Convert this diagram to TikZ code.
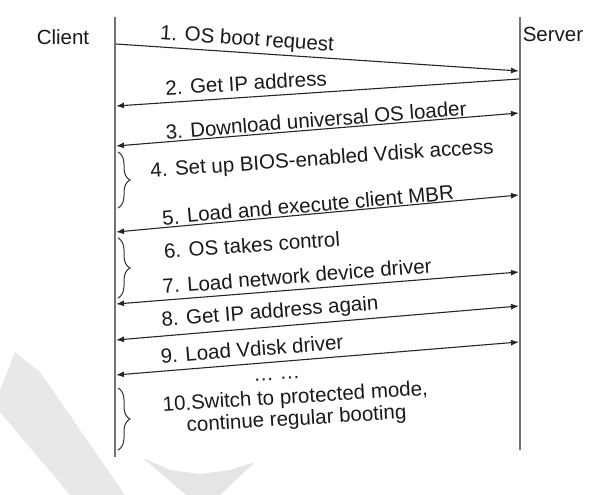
\documentclass[tikz,border=0pt]{standalone}
\usepackage{fontspec}
\setmainfont{Liberation Sans}
\usetikzlibrary{arrows.meta,decorations.pathreplacing}
\begin{document}
\begin{tikzpicture}[x=1pt,y=-1pt,
  lifeline/.style={draw=black!55, line width=1.4pt},
  msg/.style={draw=black!85, line width=1.1pt},
  head/.tip={Latex[length=8pt,width=6pt]},
  lbl/.style={font=\fontsize{20.5}{22}\selectfont, text=black!90, inner sep=0pt},
  brc/.style={draw=black!80, line width=1pt, decorate, decoration={brace, amplitude=12pt}},
  wmark/.style={fill=black!9, draw=none}]
\useasboundingbox (0,0) rectangle (590,495);
% faint watermark
\fill[wmark] (0,390) -- (15,352) -- (40,372) -- (125,495) -- (70,495) -- (0,412) -- cycle;
\path[fill=black!10] (143,458) -- (170,470) -- (200,474) -- (230,470) -- (255,462) -- (220,495) -- (186,495) -- cycle;
% lifelines
\coordinate (ct) at (115,17); \coordinate (cb) at (115,457);
\coordinate (st) at (520,17); \coordinate (sb) at (520,450);
\draw[lifeline] (ct) -- (cb);
\draw[lifeline] (st) -- (sb);
\node[lbl] (client) at (63,37) {Client};
\node[lbl] (server) at (553,34) {Server};
% message end points
\coordinate (c1) at (116,44);  \coordinate (s1) at (519,71);
\coordinate (s2) at (519,79);  \coordinate (c2) at (116,106);
\coordinate (c3) at (116,146); \coordinate (s3) at (519,113);
\coordinate (c5) at (116,232); \coordinate (s5) at (519,195);
\coordinate (c7) at (116,304); \coordinate (s7) at (519,272);
\coordinate (c8) at (116,340); \coordinate (s8) at (519,306);
\coordinate (c9) at (116,375); \coordinate (s9) at (519,342);
\draw[msg,-head] (c1) -- (s1);
\draw[msg,-head] (s2) -- (c2);
\draw[msg,head-head] (c3) -- (s3);
\draw[msg,head-head] (c5) -- (s5);
\draw[msg,head-head] (c7) -- (s7);
\draw[msg,head-head] (c8) -- (s8);
\draw[msg,head-head] (c9) -- (s9);
% braces
\coordinate (b1t) at (118,152); \coordinate (b1b) at (118,208);
\coordinate (b2t) at (118,238); \coordinate (b2b) at (118,298);
\coordinate (b3t) at (118,388); \coordinate (b3b) at (118,450);
\draw[brc] (b1t) -- (b1b);
\draw[brc] (b2t) -- (b2b);
\draw[brc] (b3t) -- (b3b);
% labels
\node[lbl,rotate=-4]  (l1) at (247,40)  {1. OS boot request};
\node[lbl,rotate=3.5] (l2) at (246,83)  {2. Get IP address};
\node[lbl,rotate=4.5] (l3) at (316,120) {3. Download universal OS loader};
\node[lbl,rotate=4]   (l4) at (322,160) {4. Set up BIOS-enabled Vdisk access};
\node[lbl,rotate=5]   (l5) at (308,205) {5. Load and execute client MBR};
\node[lbl,rotate=4]   (l6) at (252,245) {6. OS takes control};
\node[lbl,rotate=4.5] (l7) at (297,276) {7. Load network device driver};
\node[lbl,rotate=4.5] (l8) at (270,313) {8. Get IP address again};
\node[lbl,rotate=4.5] (l9) at (252,349) {9. Load Vdisk driver};
\node[lbl,rotate=3,anchor=base] (dots) at (277,380) {… …};
\node[lbl,rotate=3.5,align=center] (l10) at (296,409) {10.Switch to protected mode,\\continue regular booting};
\end{tikzpicture}
\end{document}
